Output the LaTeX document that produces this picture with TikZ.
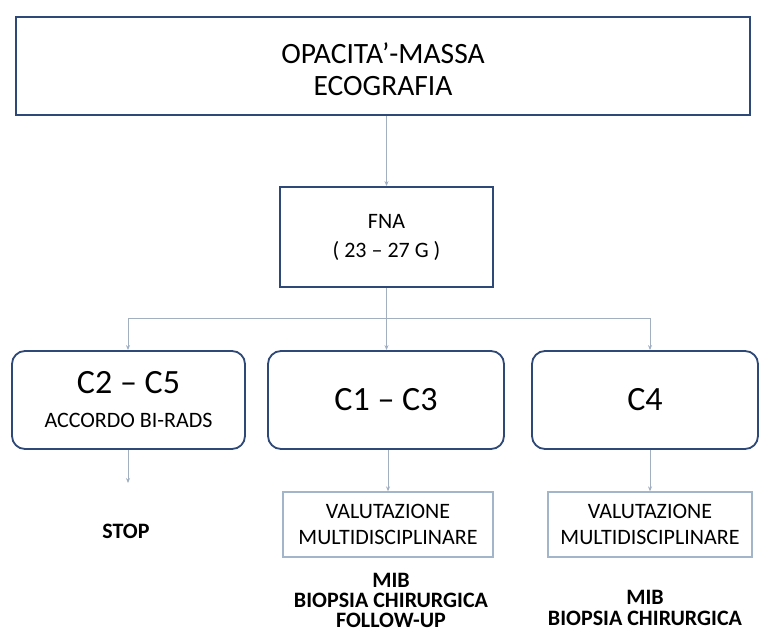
\documentclass[tikz,border=0pt]{standalone}
\usepackage{fontspec}
\setmainfont{Carlito}
\usetikzlibrary{arrows.meta}

\definecolor{boxblue}{HTML}{2E4877}
\definecolor{linkgrey}{HTML}{A2AFC0}
\definecolor{paleedge}{HTML}{A3B6C9}

\begin{document}
\begin{tikzpicture}[x=1pt,y=-1pt,
  mainbox/.style={draw=boxblue, line width=1.8pt, fill=white, inner sep=0pt,
                  align=center, text=black},
  roundbox/.style={mainbox, rounded corners=13pt},
  palebox/.style={draw=paleedge, line width=1.3pt, fill=white, inner sep=0pt,
                  align=center, minimum height=65pt,
                  font=\fontsize{22}{26}\selectfont},
  link/.style={draw=linkgrey, line width=1pt},
  arrowlink/.style={link, -{Stealth[length=5pt,width=4pt]}},
  outcome/.style={align=center, font=\bfseries\fontsize{22}{20}\selectfont}
]
\useasboundingbox[fill=white] (0,0) rectangle (760,632);

% top box, its two lines sitting slightly below the middle
\node[mainbox, minimum width=734pt, minimum height=98pt,
      label={[yshift=-3pt, align=center, font=\fontsize{29.5}{31.5}\selectfont]
             center:OPACITA’-MASSA\\ECOGRAFIA}] (top) at (383,66) {};

% needle aspiration box
\node[mainbox, minimum width=213pt, minimum height=100pt,
      font=\fontsize{22}{29}\selectfont] (fna) at (386.5,237)
      {FNA\\( 23 \textendash{} 27 G )};

% cytology classes
\node[roundbox, minimum width=233pt, minimum height=98pt,
      font=\fontsize{22}{34}\selectfont] (c25) at (128.5,400)
      {\fontsize{34}{34}\selectfont C2 \textendash{} C5\\ACCORDO BI-RADS};
\node[roundbox, minimum width=236pt, minimum height=98pt,
      font=\fontsize{34}{34}\selectfont] (c13) at (386,400)
      {C1 \textendash{} C3};
\node[roundbox, minimum width=226pt, minimum height=98pt,
      font=\fontsize{34}{34}\selectfont] (c4) at (645,400)
      {C4};

% multidisciplinary review boxes
\node[palebox, minimum width=210pt] (val1) at (388,524.5)
      {VALUTAZIONE\\MULTIDISCIPLINARE};
\node[palebox, minimum width=204pt] (val2) at (650,524.5)
      {VALUTAZIONE\\MULTIDISCIPLINARE};

% outcomes
\node[outcome] (stop) at (126,531) {STOP};
\node[outcome] (out1) at (391,600) {MIB\\BIOPSIA CHIRURGICA\\FOLLOW-UP};
\node[outcome, font=\bfseries\fontsize{22}{21}\selectfont] (out2) at (645,607.5)
      {MIB\\BIOPSIA CHIRURGICA};

% connectors
\coordinate (busL) at (128,318);
\coordinate (busR) at (650,318);
\coordinate (stopEnd) at (128,483);

\draw[arrowlink] (fna.north |- top.south) -- (fna.north);
\draw[arrowlink] (fna.south) -- (fna.south |- c13.north);
\draw[link] (busL) -- (busR);
\draw[arrowlink] (busL) -- (busL |- c25.north);
\draw[arrowlink] (busR) -- (busR |- c4.north);
\draw[arrowlink] (busL |- c25.south) -- (stopEnd);
\draw[arrowlink] (c13.south -| val1.north) -- (val1.north);
\draw[arrowlink] (c4.south -| val2.north) -- (val2.north);
\end{tikzpicture}
\end{document}
